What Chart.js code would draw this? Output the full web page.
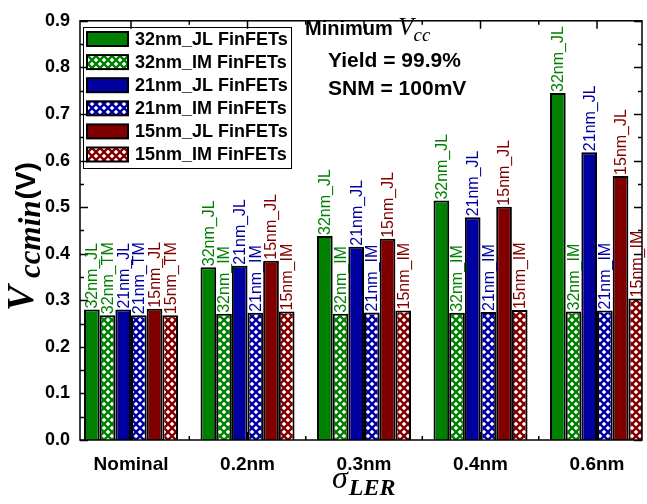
<!DOCTYPE html>
<html>
<head>
<meta charset="utf-8">
<script src="https://cdn.jsdelivr.net/npm/chart.js@4.4.1/dist/chart.umd.min.js"></script>
<style>
html,body{margin:0;padding:0;background:#fff;}
#wrap{width:647px;height:504px;}
</style>
</head>
<body>
<div id="wrap"><canvas id="grafica" width="647" height="504"></canvas></div>
<script>
// Vccmin por sigma LER
var categorias = ['Nominal', '0.2nm', '0.3nm', '0.4nm', '0.6nm'];
var series = ['32nm_JL FinFETs', '32nm_IM FinFETs', '21nm_JL FinFETs', '21nm_IM FinFETs', '15nm_JL FinFETs', '15nm_IM FinFETs'];
var etiquetas = ['32nm_JL', '32nm_IM', '21nm_JL', '21nm_IM', '15nm_JL', '15nm_IM'];
var etiquetasNominal = ['32nm_JL', '32nm_TM', '21nm_JL', '21nm_TM', '15nm_JL', '15nm_TM'];
var ticksY = [0, 0.1, 0.2, 0.3, 0.4, 0.5, 0.6, 0.7, 0.8, 0.9];

var v32JL = [0.280, 0.371, 0.438, 0.514, 0.745];
var v32IM = [0.268, 0.271, 0.271, 0.273, 0.276];
var v21JL = [0.280, 0.374, 0.415, 0.478, 0.618];
var v21IM = [0.268, 0.273, 0.274, 0.275, 0.278];
var v15JL = [0.282, 0.385, 0.432, 0.501, 0.567];
var v15IM = [0.268, 0.276, 0.278, 0.279, 0.304];

var verde = '#008000', azul = '#0000a0', rojo = '#800000';
var SANS = '"Liberation Sans", Arial, sans-serif';
var SERIF = '"Liberation Serif", "Times New Roman", serif';

function trama(color) {
    var c = document.createElement('canvas');
    c.width = 8; c.height = 8;
    var g = c.getContext('2d');
    g.fillStyle = '#fff';
    g.fillRect(0, 0, 8, 8);
    g.strokeStyle = color;
    g.lineWidth = 2.4;
    g.beginPath();
    g.moveTo(-2, -2); g.lineTo(10, 10);
    g.moveTo(10, -2); g.lineTo(-2, 10);
    g.stroke();
    return g.createPattern(c, 'repeat');
}

var colores = [verde, trama(verde), azul, trama(azul), rojo, trama(rojo)];
var coloresTexto = [verde, verde, azul, azul, rojo, rojo];
var valores = [v32JL, v32IM, v21JL, v21IM, v15JL, v15IM];

var marco = {
    id: 'marco',
    beforeDatasetsDraw: function (chart) {
        var ctx = chart.ctx, a = chart.chartArea;
        var sx = chart.scales.x, sy = chart.scales.y;
        ctx.save();
        ctx.strokeStyle = '#000';
        ctx.lineWidth = 1.5;
        ctx.beginPath();
        for (var k = 0; k <= 18; k++) {
            var py = Math.round(sy.getPixelForValue(k * 0.05)) + 0.5;
            var l = k % 2 === 0 ? 8 : 4;
            ctx.moveTo(a.left, py); ctx.lineTo(a.left + l, py);
            ctx.moveTo(a.right, py); ctx.lineTo(a.right - l, py);
        }
        for (var i = -1; i < categorias.length; i++) {
            var pc = sx.getPixelForValue(i);
            if (pc > a.left && pc < a.right) {
                ctx.moveTo(pc, a.bottom); ctx.lineTo(pc, a.bottom - 8);
                ctx.moveTo(pc, a.top); ctx.lineTo(pc, a.top + 8);
            }
            var pb = sx.getPixelForValue(i + 0.5);
            if (pb > a.left && pb < a.right) {
                ctx.moveTo(pb, a.bottom); ctx.lineTo(pb, a.bottom - 4);
                ctx.moveTo(pb, a.top); ctx.lineTo(pb, a.top + 4);
            }
        }
        ctx.stroke();
        ctx.restore();
    },
    afterDatasetsDraw: function (chart) {
        var ctx = chart.ctx;
        chart.data.datasets.forEach(function (ds, i) {
            var meta = chart.getDatasetMeta(i);
            meta.data.forEach(function (bar, j) {
                var txt = j === 0 ? etiquetasNominal[i] : etiquetas[i];
                ctx.save();
                ctx.translate(bar.x, bar.y - 1);
                ctx.rotate(-Math.PI / 2);
                ctx.font = '16px ' + SANS;
                ctx.fillStyle = coloresTexto[i];
                ctx.textAlign = 'left';
                ctx.textBaseline = 'middle';
                ctx.fillText(txt, 0, 1);
                ctx.restore();
            });
        });
    },
    afterDraw: function (chart) {
        var ctx = chart.ctx, a = chart.chartArea;
        ctx.save();
        // marco
        ctx.strokeStyle = '#000';
        ctx.lineWidth = 1.5;
        ctx.strokeRect(a.left, a.top, a.right - a.left, a.bottom - a.top);

        // leyenda
        ctx.lineWidth = 1;
        ctx.strokeRect(83.5, 27.5, 208, 141);
        for (var i = 0; i < series.length; i++) {
            var yc = 39 + i * 23.1;
            ctx.fillStyle = colores[i];
            ctx.fillRect(87, yc - 7, 41, 14);
            ctx.lineWidth = 2;
            ctx.strokeStyle = '#000';
            ctx.strokeRect(87, yc - 7, 41, 14);
            ctx.fillStyle = '#000';
            ctx.font = 'bold 18px ' + SANS;
            ctx.textAlign = 'left';
            ctx.textBaseline = 'middle';
            ctx.fillText(series[i], 135, yc + 1);
        }

        // anotaciones
        ctx.textBaseline = 'alphabetic';
        ctx.font = 'bold 20px ' + SANS;
        ctx.fillText('Minimum', 305, 35);
        var w = ctx.measureText('Minimum ').width;
        ctx.font = 'italic 25px ' + SERIF;
        ctx.fillText('V', 305 + w, 35);
        var wv = ctx.measureText('V').width;
        ctx.font = 'italic 19px ' + SERIF;
        ctx.fillText('cc', 305 + w + wv, 41);
        ctx.font = 'bold 21px ' + SANS;
        ctx.fillText('Yield = 99.9%', 328, 67);
        ctx.fillText('SNM = 100mV', 328, 95);

        // titulo eje y
        ctx.save();
        ctx.translate(33, 311);
        ctx.rotate(-Math.PI / 2);
        ctx.font = 'italic bold 38px ' + SERIF;
        ctx.fillText('V', 0, 0);
        ctx.font = 'italic bold 31px ' + SERIF;
        ctx.fillText('ccmin', 33, 7);
        var x2 = 33 + ctx.measureText('ccmin').width;
        ctx.font = 'bold 28px ' + SANS;
        ctx.fillText('(V)', x2 + 1, 2);
        ctx.restore();

        // titulo eje x
        ctx.font = 'italic 32px ' + SERIF;
        ctx.fillText('\u03c3', 332, 488);
        var ws = ctx.measureText('\u03c3').width;
        ctx.font = 'italic bold 24px ' + SERIF;
        ctx.fillText('LER', 333 + ws, 495);
        ctx.restore();
    }
};

var grafica = document.getElementById('grafica').getContext('2d');
new Chart(grafica, {
    type: 'bar',
    data: {
        labels: categorias,
        datasets: series.map(function (s, i) {
            return {
                label: s,
                data: valores[i],
                backgroundColor: colores[i],
                borderColor: '#000',
                borderWidth: 2
            };
        })
    },
    options: {
        responsive: false,
        animation: false,
        layout: { padding: { top: 11, right: 5, left: 0, bottom: 0 } },
        datasets: { bar: { categoryPercentage: 0.807, barPercentage: 1 } },
        plugins: { legend: { display: false }, tooltip: { enabled: false } },
        scales: {
            x: {
                offset: false,
                grid: { display: false, drawTicks: false },
                border: { display: false },
                ticks: { font: { family: SANS, size: 19, weight: 'bold' }, color: '#000', padding: 13, maxRotation: 0 },
                afterBuildTicks: function (s) { s._startValue = -0.438; s._valueRange = 4.824; },
                afterFit: function (s) { s.height = 64; }
            },
            y: {
                min: 0,
                max: 0.9,
                afterBuildTicks: function (s) { s.ticks = ticksY.map(function (v) { return { value: v }; }); },
                grid: { display: false, drawTicks: false },
                border: { display: false },
                ticks: {
                    font: { family: SANS, size: 18, weight: 'bold' }, color: '#000', padding: 10,
                    callback: function (v) { return v.toFixed(1); }
                },
                afterFit: function (s) { s.width = 80; }
            }
        }
    },
    plugins: [marco]
});
</script>
</body>
</html>
